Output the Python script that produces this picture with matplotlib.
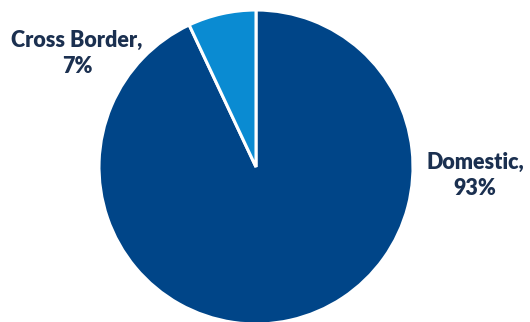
import matplotlib
matplotlib.use("Agg")
import matplotlib.pyplot as plt

categories = ["Domestic", "Cross Border"]
values = [93, 7]
colors = ["#004588", "#0A8BD2"]
text_color = "#1B3050"

W, H = 530, 322
fig = plt.figure(figsize=(W / 100, H / 100), dpi=100)
ax = fig.add_axes([0, 0, 1, 1])

ax.pie(values, colors=colors, startangle=90, counterclock=False,
       center=(256, H - 167), radius=157, frame=True,
       wedgeprops=dict(edgecolor="white", linewidth=2.2))
ax.set_xlim(0, W)
ax.set_ylim(0, H)
ax.set_aspect("auto")
ax.axis("off")

font = dict(family=["Lato", "DejaVu Sans"], fontweight="heavy", fontsize=15.5, color=text_color)
labels = [f"{c},\n{v}%" for c, v in zip(categories, values)]
ax.text(475, H - 175, labels[0], ha="center", va="center", multialignment="center", linespacing=1.3, **font)
ax.text(77, H - 53, labels[1], ha="center", va="center", multialignment="center", linespacing=1.3, **font)

fig.savefig("out.png", dpi=100)
